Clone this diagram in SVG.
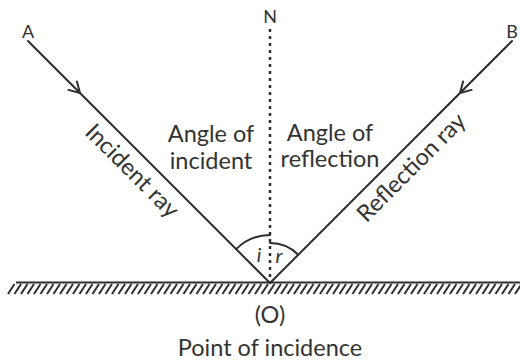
<svg xmlns="http://www.w3.org/2000/svg" width="520" height="363" viewBox="0 0 520 363">
<style>
.ln{stroke:#2e2e2e;stroke-width:2;fill:none;stroke-linecap:round}
.ar{stroke:#2e2e2e;stroke-width:2;fill:none;stroke-linecap:round;stroke-linejoin:miter}
.hat{stroke:#2e2e2e;stroke-width:2}
.t{font-family:Lato,"Liberation Sans",sans-serif;fill:#333;text-anchor:middle}
.big{font-size:23.5px}
.sm{font-size:18px}
</style>
<rect width="520" height="363" fill="#fff"/>
<g id="mirror">
<line x1="16" y1="282.5" x2="520" y2="282.5" stroke="#2e2e2e" stroke-width="2"/>
<g class="hat">
<path id="hatches" d="M8,294 l6.5,-10 M14.5,294 l6.5,-10 M21,294 l6.5,-10 M27.5,294 l6.5,-10 M34,294 l6.5,-10 M40.5,294 l6.5,-10 M47,294 l6.5,-10 M53.5,294 l6.5,-10 M60,294 l6.5,-10 M66.5,294 l6.5,-10 M73,294 l6.5,-10 M79.5,294 l6.5,-10 M86,294 l6.5,-10 M92.5,294 l6.5,-10 M99,294 l6.5,-10 M105.5,294 l6.5,-10 M112,294 l6.5,-10 M118.5,294 l6.5,-10 M125,294 l6.5,-10 M131.5,294 l6.5,-10 M138,294 l6.5,-10 M144.5,294 l6.5,-10 M151,294 l6.5,-10 M157.5,294 l6.5,-10 M164,294 l6.5,-10 M170.5,294 l6.5,-10 M177,294 l6.5,-10 M183.5,294 l6.5,-10 M190,294 l6.5,-10 M196.5,294 l6.5,-10 M203,294 l6.5,-10 M209.5,294 l6.5,-10 M216,294 l6.5,-10 M222.5,294 l6.5,-10 M229,294 l6.5,-10 M235.5,294 l6.5,-10 M242,294 l6.5,-10 M248.5,294 l6.5,-10 M255,294 l6.5,-10 M261.5,294 l6.5,-10 M268,294 l6.5,-10 M274.5,294 l6.5,-10 M281,294 l6.5,-10 M287.5,294 l6.5,-10 M294,294 l6.5,-10 M300.5,294 l6.5,-10 M307,294 l6.5,-10 M313.5,294 l6.5,-10 M320,294 l6.5,-10 M326.5,294 l6.5,-10 M333,294 l6.5,-10 M339.5,294 l6.5,-10 M346,294 l6.5,-10 M352.5,294 l6.5,-10 M359,294 l6.5,-10 M365.5,294 l6.5,-10 M372,294 l6.5,-10 M378.5,294 l6.5,-10 M385,294 l6.5,-10 M391.5,294 l6.5,-10 M398,294 l6.5,-10 M404.5,294 l6.5,-10 M411,294 l6.5,-10 M417.5,294 l6.5,-10 M424,294 l6.5,-10 M430.5,294 l6.5,-10 M437,294 l6.5,-10 M443.5,294 l6.5,-10 M450,294 l6.5,-10 M456.5,294 l6.5,-10 M463,294 l6.5,-10 M469.5,294 l6.5,-10 M476,294 l6.5,-10 M482.5,294 l6.5,-10 M489,294 l6.5,-10 M495.5,294 l6.5,-10 M502,294 l6.5,-10 M508.5,294 l6.5,-10 M515,294 l6.5,-10"/>
</g>
</g>
<g id="normal">
<line x1="270" y1="29" x2="270" y2="283" stroke="#2e2e2e" stroke-width="2.5" stroke-dasharray="3 4"/>
<text class="t sm" x="270" y="23">N</text>
</g>
<g id="connectors">
<line id="incident-ray" class="ln" x1="28" y1="41" x2="270" y2="283"/>
<polyline class="ar" points="68.4,89.9 80,93 76.9,81.4"/>
<line id="reflected-ray" class="ln" x1="512" y1="41" x2="270" y2="283"/>
<polyline class="ar" points="471.6,89.9 460,93 463.1,81.4"/>
<path id="arc-i" class="ln" d="M236.1,249.1 A48,48 0 0 1 270,235"/>
<path id="arc-r" class="ln" d="M270,243 A40,40 0 0 1 298.3,254.7"/>
</g>
<g id="point-A"><text class="t sm" x="28" y="38">A</text></g>
<g id="point-B"><text class="t sm" x="512" y="38">B</text></g>
<g id="labels">
<text class="t big" x="211" y="142">Angle of</text>
<text class="t big" x="211" y="169">incident</text>
<text class="t big" x="330" y="141">Angle of</text>
<text class="t big" x="330" y="167">reflection</text>
<text class="t big" transform="translate(126.6,176.4) rotate(45)" x="0" y="0">Incident ray</text>
<text class="t big" transform="translate(416.8,173) rotate(-45)" x="0" y="0">Reflection ray</text>
<text class="t" x="259" y="262" font-size="20" font-style="italic">i</text>
<text class="t" x="279" y="263" font-size="20" font-style="italic">r</text>
<text class="t big" x="270" y="323">(O)</text>
<text class="t big" x="270" y="356">Point of incidence</text>
</g>
</svg>
